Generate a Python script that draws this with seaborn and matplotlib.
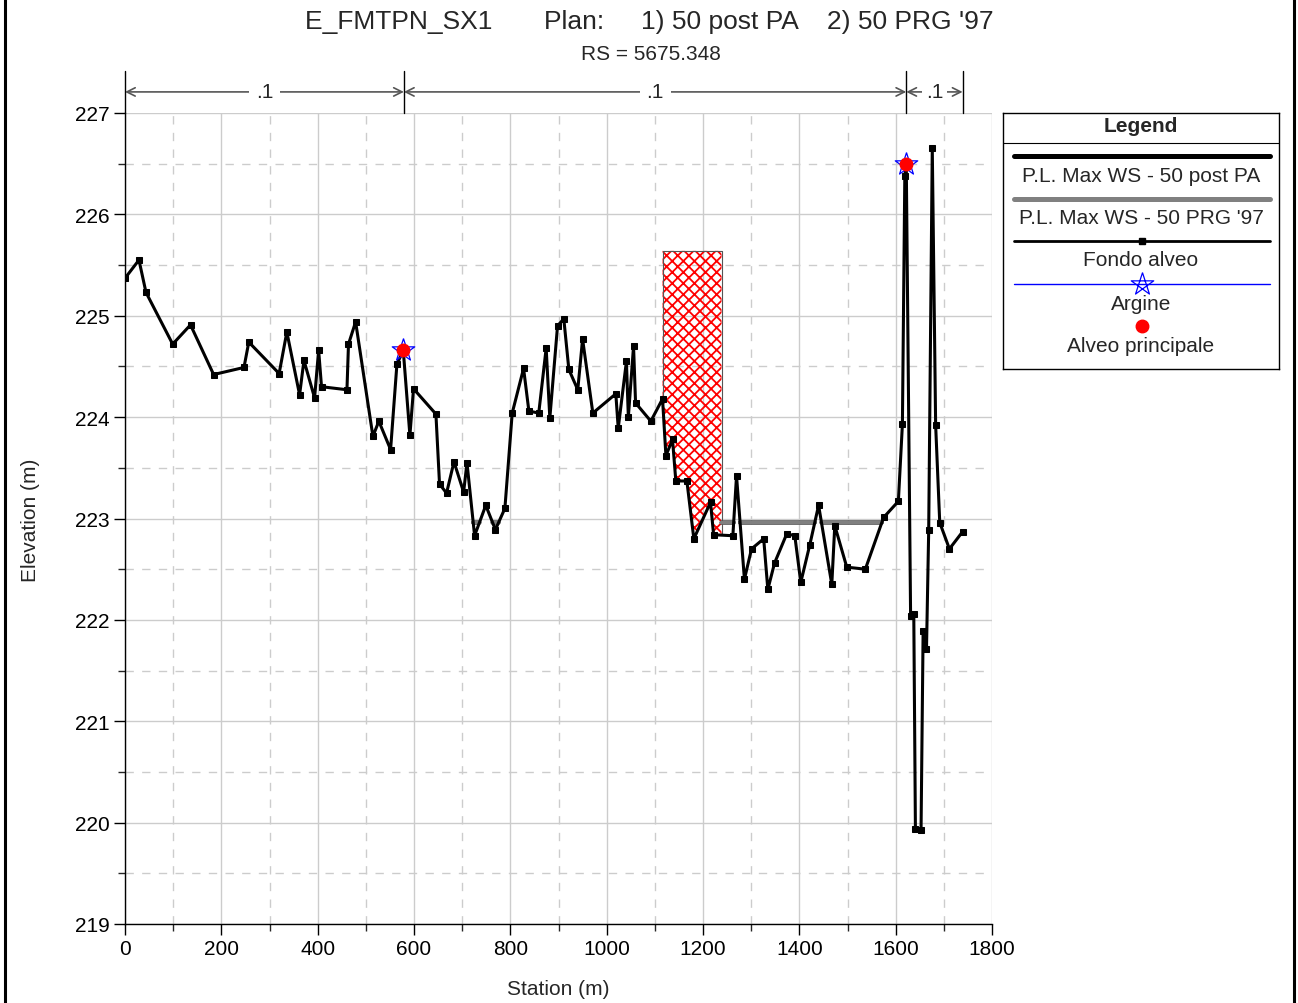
import numpy as np
import pandas as pd
import matplotlib
matplotlib.use('Agg')
import matplotlib.pyplot as plt
from matplotlib.lines import Line2D
from matplotlib.path import Path
from matplotlib.ticker import MultipleLocator
import seaborn as sns

# ground profile (station m, elevation m)
station = [0, 29, 43.6, 99, 136, 184, 247, 257, 320, 336, 362.5, 371.5, 393.6, 402, 408,
           460.8, 464, 478.8, 514.7, 527, 551.4, 564.5, 577.7, 591.5, 599, 645.5, 653, 667.6,
           683, 703, 710, 725.8, 749, 769, 788.7, 803.9, 827.5, 838.5, 859, 874.4, 882, 898,
           911, 921.5, 940, 950, 971.3, 1019, 1024, 1041, 1045, 1055.8, 1060, 1091.7, 1116,
           1123, 1136.7, 1143.6, 1166.5, 1181, 1215.6, 1222, 1262, 1269.6, 1286, 1300.7, 1326,
           1334.6, 1348.5, 1374, 1390.6, 1403, 1421.7, 1440, 1467.4, 1473.6, 1498.5, 1537,
           1575, 1605.6, 1614, 1619, 1622, 1631, 1637.6, 1641, 1652.7, 1657, 1664, 1668.6,
           1676, 1683, 1691.5, 1711.6, 1739]
elevation = [225.37, 225.55, 225.23, 224.72, 224.91, 224.42, 224.49, 224.74, 224.43, 224.84,
             224.22, 224.56, 224.19, 224.66, 224.30, 224.27, 224.72, 224.94, 223.81, 223.96,
             223.68, 224.52, 224.66, 223.82, 224.28, 224.03, 223.34, 223.25, 223.56, 223.26,
             223.55, 222.83, 223.13, 222.89, 223.10, 224.04, 224.48, 224.06, 224.04, 224.68,
             223.99, 224.90, 224.97, 224.47, 224.27, 224.77, 224.04, 224.23, 223.89, 224.55,
             224.00, 224.70, 224.14, 223.96, 224.18, 223.62, 223.78, 223.37, 223.37, 222.80,
             223.16, 222.84, 222.83, 223.42, 222.40, 222.70, 222.80, 222.30, 222.56, 222.85,
             222.83, 222.37, 222.74, 223.13, 222.35, 222.93, 222.52, 222.50, 223.01, 223.17,
             223.93, 226.38, 226.50, 222.04, 222.06, 219.94, 219.93, 221.89, 221.71, 222.89,
             226.65, 223.92, 222.96, 222.70, 222.87]

# water surfaces
ws_pa = 222.96
ws_prg = 222.96

# levees (Argine) and bank stations (Alveo principale)
levee_x = [577.7, 1622]
levee_y = [224.66, 226.50]
bank_x = [577.7, 1622]
bank_y = [224.66, 226.50]

# ineffective flow area
ineff_left = 1116
ineff_right = 1238.5
ineff_top = 225.64

# Manning's n
n_breaks = [0, 579, 1622, 1739]
n_values = ['.1', '.1', '.1']

title = "E_FMTPN_SX1       Plan:     1) 50 post PA    2) 50 PRG '97"
subtitle = "RS = 5675.348"

sns.set_style('white')
plt.rcParams['font.family'] = ['Liberation Sans', 'DejaVu Sans']
plt.rcParams['hatch.linewidth'] = 1.3

# open pentagram marker like the HEC-RAS levee symbol
ang = np.deg2rad(90 + 144 * np.arange(6))
pentagram = Path(np.column_stack([np.cos(ang), np.sin(ang)]))

df = pd.DataFrame({'station': station, 'elevation': elevation})

fig = plt.figure(figsize=(12.98, 10.04), dpi=100)
ax = fig.add_axes([125 / 1298, 1 - 925 / 1004, 867 / 1298, 811 / 1004])

# ineffective area, hatched
xs = np.array(station)
ys = np.array(elevation)
g_left = np.interp(ineff_left, xs, ys)
g_right = np.interp(ineff_right, xs, ys)
inside = (xs > ineff_left) & (xs < ineff_right)
fx = np.concatenate([[ineff_left], xs[inside], [ineff_right]])
fy = np.concatenate([[g_left], ys[inside], [g_right]])
ax.fill_between(fx, fy, ineff_top, facecolor='none', edgecolor='red', hatch='xxx',
                linewidth=0, zorder=2)
ax.plot([ineff_left, ineff_left, ineff_right, ineff_right],
        [g_left, ineff_top, ineff_top, g_right], color='#555555', lw=0.8, zorder=2)

# water surface between levees, outside the ineffective area
dense = np.linspace(levee_x[0], levee_x[1], 6001)
gd = np.interp(dense, xs, ys)
blocked = (dense >= ineff_left) & (dense <= ineff_right)
ax.plot(dense, np.where((gd < ws_pa) & ~blocked, ws_pa, np.nan), color='black', lw=3, zorder=3)
ax.plot(dense, np.where((gd < ws_prg) & ~blocked, ws_prg, np.nan), color='#808080', lw=3, zorder=3)

# ground
sns.lineplot(data=df, x='station', y='elevation', sort=False, estimator=None, ax=ax,
             color='black', linewidth=2.2, marker='s', markersize=5,
             markeredgecolor='black', zorder=4)

# levees and bank stations
ax.plot(levee_x, levee_y, linestyle='none', marker=pentagram, markersize=17,
        markerfacecolor='none', markeredgecolor='blue', markeredgewidth=0.9, zorder=5)
ax.plot(bank_x, bank_y, linestyle='none', marker='o', markersize=9,
        color='red', zorder=6)

ax.set_xlim(0, 1800)
ax.set_ylim(219, 227)
ax.xaxis.set_major_locator(MultipleLocator(200))
ax.xaxis.set_minor_locator(MultipleLocator(100))
ax.yaxis.set_major_locator(MultipleLocator(1))
ax.yaxis.set_minor_locator(MultipleLocator(0.5))
ax.grid(which='major', color='#cccccc', lw=1, ls='-')
ax.grid(which='minor', color='#cccccc', lw=1, ls=(0, (6, 6)))
ax.set_axisbelow(True)
for s in ['top', 'right']:
    ax.spines[s].set_visible(False)
for s in ['left', 'bottom']:
    ax.spines[s].set_color('black')
    ax.spines[s].set_linewidth(1)
ax.tick_params(which='major', direction='out', length=8, width=1, labelsize=15, pad=3,
               left=True, bottom=True, colors='black')
ax.tick_params(which='minor', direction='out', length=5, width=1, left=True, bottom=True)
ax.set_xlabel('')
ax.set_ylabel('')

fig.text(558 / 1298, 1 - 990 / 1004, 'Station (m)', ha='center', va='center', fontsize=15)
fig.text(30 / 1298, 1 - 520 / 1004, 'Elevation (m)', ha='center', va='center',
         rotation=90, fontsize=15)
fig.text(0.5, 1 - 22 / 1004, title, ha='center', va='center', fontsize=19)
fig.text(651 / 1298, 1 - 55 / 1004, subtitle, ha='center', va='center', fontsize=15)

# Manning's n above the plot
trans = ax.get_xaxis_transform()
for xb in n_breaks:
    ax.plot([xb, xb], [1.0, 1.052], transform=trans, color='black', lw=1, clip_on=False)
for i, nv in enumerate(n_values):
    x0, x1 = n_breaks[i], n_breaks[i + 1]
    ax.annotate('', xy=(x1, 1.026), xytext=(x0, 1.026), xycoords=trans, textcoords=trans,
                arrowprops=dict(arrowstyle='<->,head_length=0.6,head_width=0.3',
                                color='#555555', lw=1.2, shrinkA=0, shrinkB=0))
    ax.text((x0 + x1) / 2, 1.026, nv, transform=trans, ha='center', va='center',
            fontsize=15, zorder=10,
            bbox=dict(facecolor='white', edgecolor='none', pad=2.5 if x1 - x0 < 200 else 5))

# legend box
lx = fig.add_axes([1003 / 1298, 1 - 370 / 1004, 276 / 1298, 256 / 1004])
lx.set_xlim(0, 276)
lx.set_ylim(256, 0)
lx.set_xticks([])
lx.set_yticks([])
for s in lx.spines.values():
    s.set_color('black')
    s.set_linewidth(1)
lx.text(138, 13, 'Legend', ha='center', va='center', fontsize=15, fontweight='bold')
lx.axhline(30, color='black', lw=0.8)
lx.plot([11, 267], [43, 43], color='black', lw=3.6)
lx.text(138, 62, 'P.L. Max WS - 50 post PA', ha='center', va='center', fontsize=15)
lx.plot([11, 267], [86, 86], color='#808080', lw=3.6)
lx.text(138, 105, "P.L. Max WS - 50 PRG '97", ha='center', va='center', fontsize=15)
lx.plot([11, 267], [128, 128], color='black', lw=2)
lx.plot([139], [128], marker='s', markersize=5, color='black')
lx.text(138, 147, 'Fondo alveo', ha='center', va='center', fontsize=15)
lx.plot([11, 267], [171, 171], color='blue', lw=1)
lx.plot([139], [171], marker=pentagram, markersize=17, markerfacecolor='none',
        markeredgecolor='blue', markeredgewidth=0.9)
lx.text(138, 190, 'Argine', ha='center', va='center', fontsize=15)
lx.plot([139], [213], marker='o', markersize=9, color='red')
lx.text(138, 233, 'Alveo principale', ha='center', va='center', fontsize=15)

# side borders
fig.add_artist(Line2D([5 / 1298, 5 / 1298], [0, 1], transform=fig.transFigure, color='black', lw=2.2))
fig.add_artist(Line2D([1294 / 1298, 1294 / 1298], [0, 1], transform=fig.transFigure, color='black', lw=2.2))

fig.savefig('out.png', dpi=100)
